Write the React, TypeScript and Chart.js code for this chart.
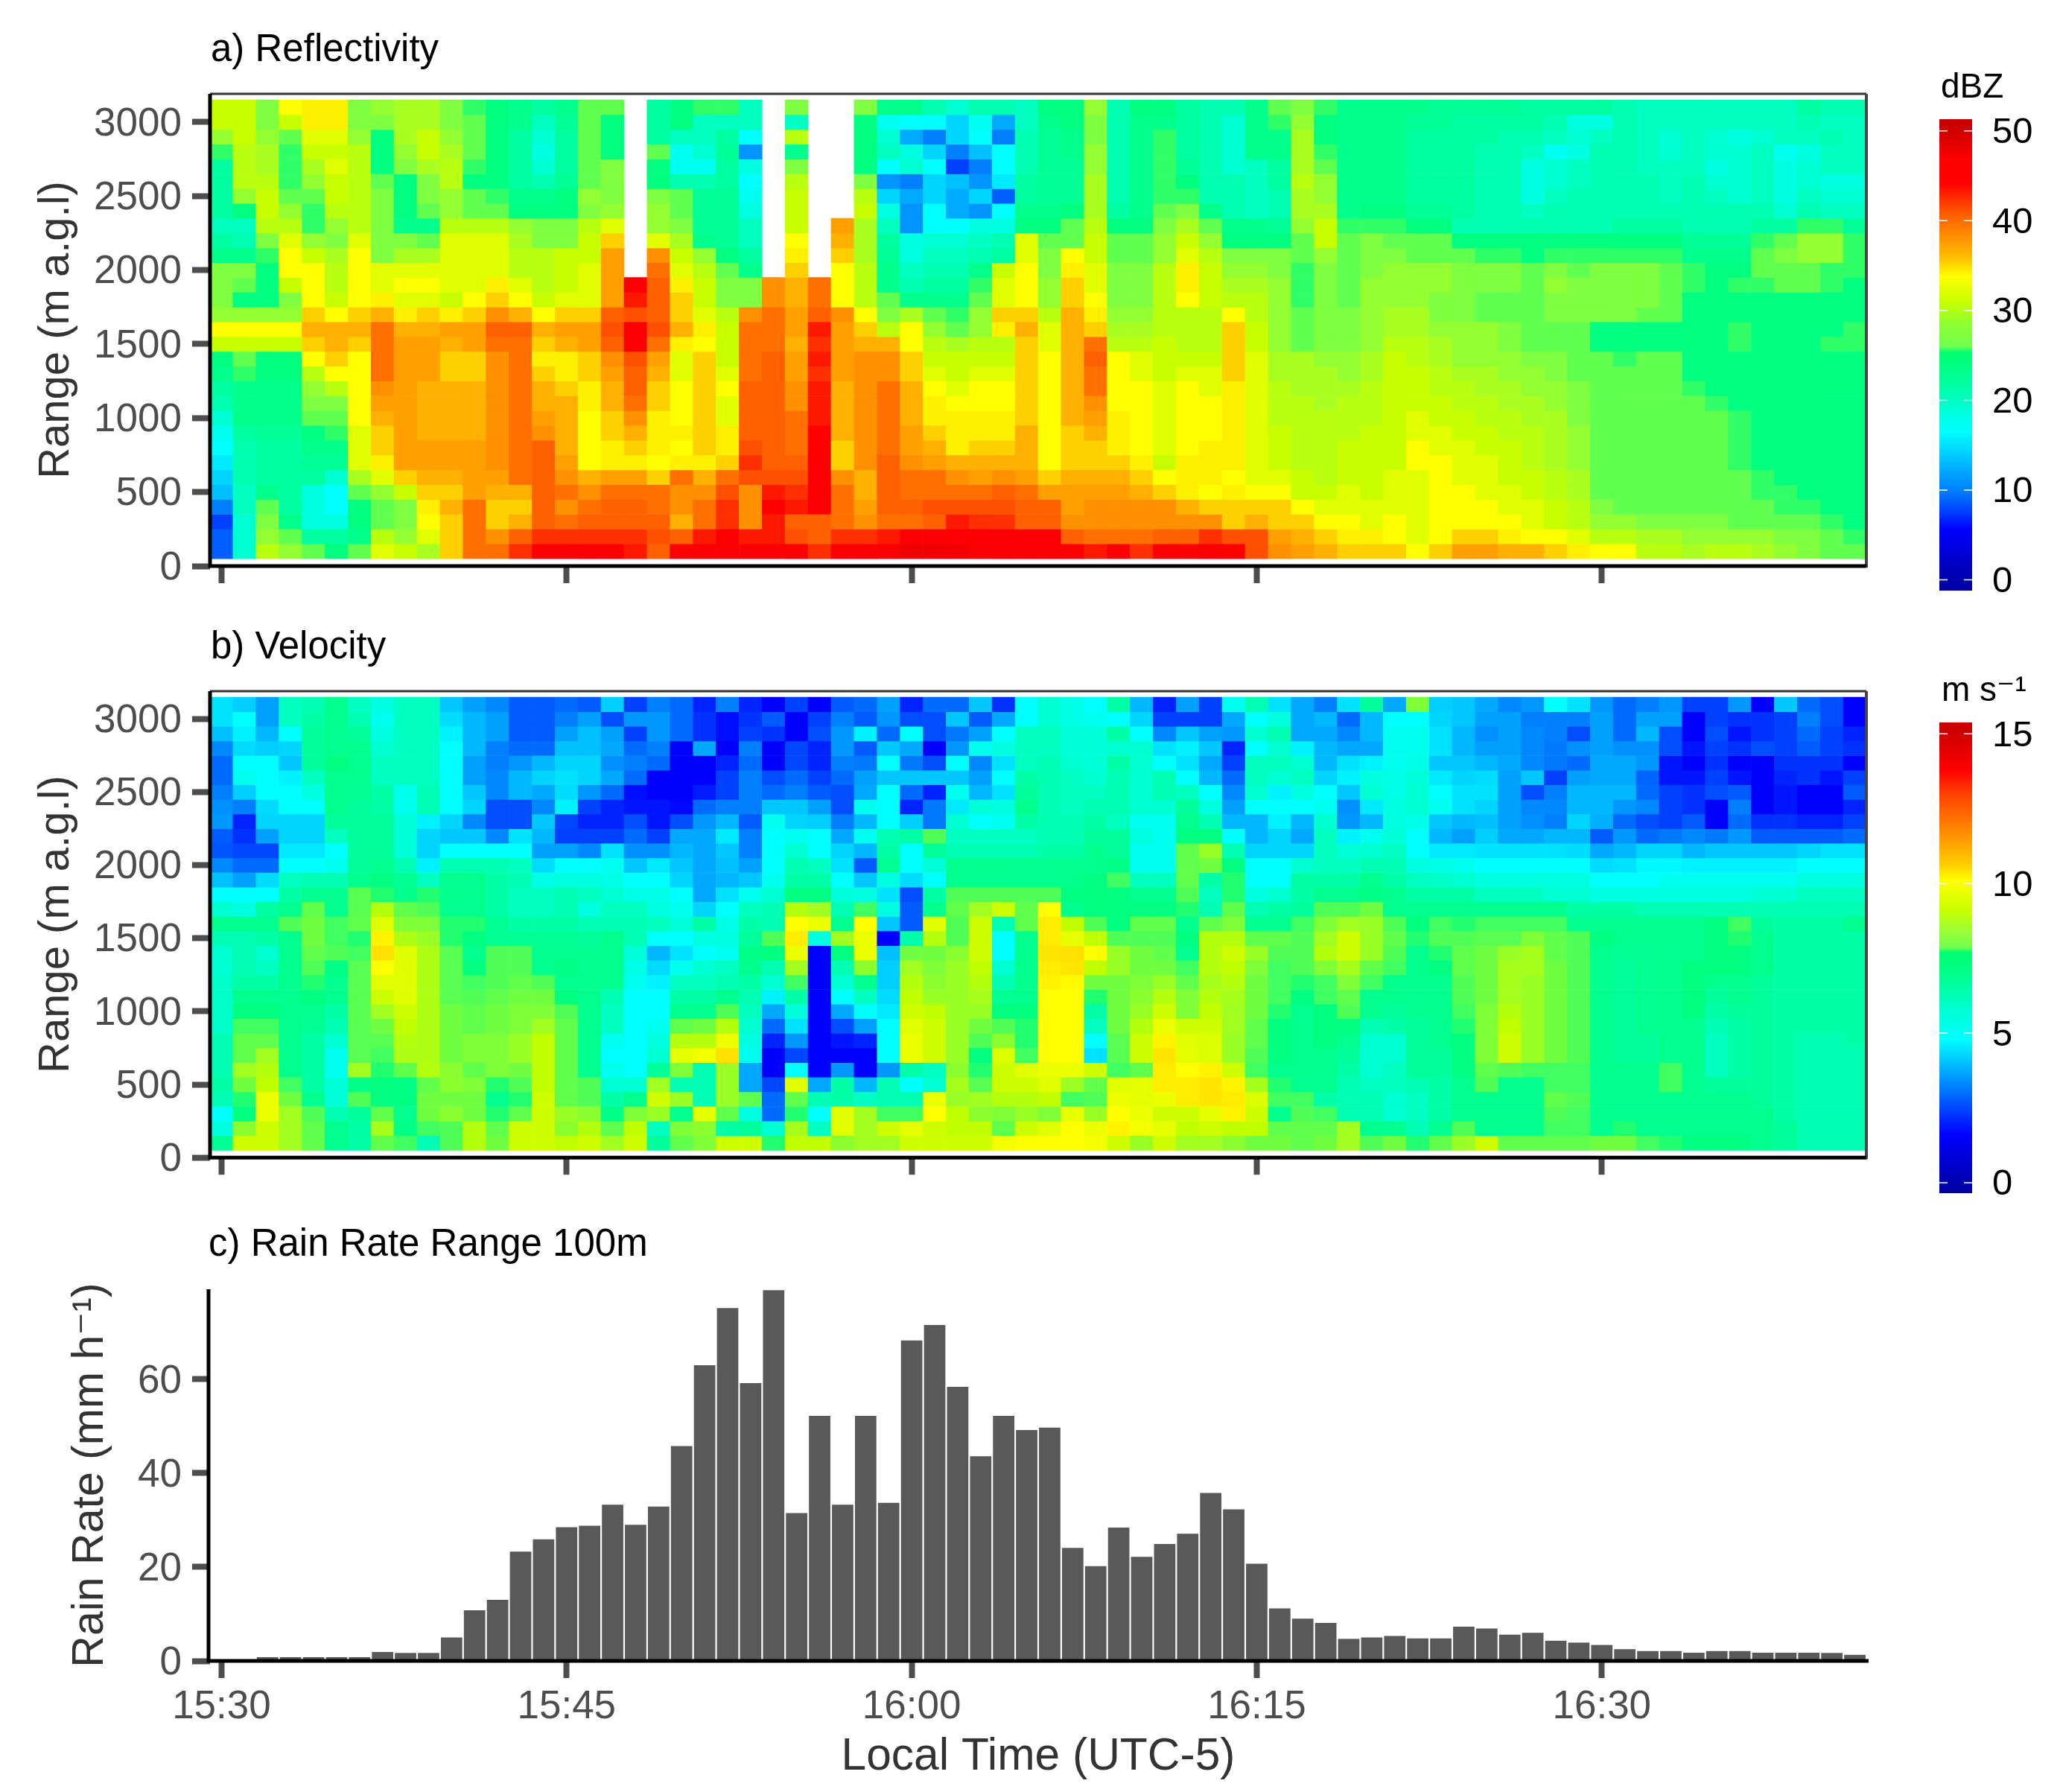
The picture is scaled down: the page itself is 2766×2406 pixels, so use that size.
import { useEffect, useRef } from "react"
import { Chart, registerables } from "chart.js"

Chart.register(...registerables)

const FONT = '"Liberation Sans", "DejaVu Sans", sans-serif'

// one minute per column
const timeLabels = Array.from({ length: 72 }, (_, i) => {
  const m = 30 + i
  return `${15 + Math.floor(m / 60)}:${String(m % 60).padStart(2, "0")}`
})
const timeTicks = ["15:30", "15:45", "16:00", "16:15", "16:30"]
const rangeTicks = [0, 500, 1000, 1500, 2000, 2500, 3000]
const rainTicks = [0, 20, 40, 60]
const dbzTicks = [0, 10, 20, 30, 40, 50]
const velTicks = [0, 5, 10, 15]

// range gates, top to bottom
const rangeGates = [3100, 3000, 2900, 2800, 2700, 2600, 2500, 2400, 2300, 2200, 2100, 2000, 1900, 1800, 1700, 1600, 1500, 1400, 1300, 1200, 1100, 1000, 900, 800, 700, 600, 500, 400, 300, 200, 100]

// dBZ, one line per minute, top gate first
const reflectivity = [
  [32,32,29,26,22,22,22,22,20,22,24,28,28,28,29,34,32,25,24,22,21,19,17,16,15,14,13,10,8,9,9],
  [32,32,32,31,31,31,29,25,20,21,24,28,27,25,29,34,32,27,26,24,24,24,22,21,21,21,20,20,19,19,19],
  [28,28,29,30,30,31,32,32,31,28,26,25,25,25,29,34,32,25,25,24,24,24,23,22,22,22,24,27,28,29,31],
  [34,32,27,26,26,26,27,29,31,33,34,34,32,28,29,34,32,25,25,24,24,24,23,22,22,22,22,22,24,27,29],
  [35,35,33,32,30,29,27,26,26,29,32,34,34,34,36,37,36,34,31,29,28,27,25,24,23,22,18,18,18,22,27],
  [35,35,33,32,33,32,32,31,29,28,30,31,31,32,34,37,37,36,34,31,28,27,26,24,23,19,16,16,18,22,25],
  [28,28,29,31,31,31,31,31,31,33,34,34,34,34,36,37,36,34,34,34,34,34,33,33,33,30,27,25,25,24,27],
  [29,28,25,25,25,27,28,28,28,28,28,33,33,35,37,40,40,40,40,39,38,37,36,36,35,33,29,27,27,31,33],
  [30,30,30,29,28,25,25,25,24,28,30,33,34,33,35,37,38,38,38,38,38,38,38,38,38,36,32,28,28,29,32],
  [30,30,32,32,30,28,28,27,24,27,30,33,34,33,36,37,38,38,38,37,37,37,37,38,38,37,36,35,34,33,30],
  [28,28,29,30,31,31,29,29,31,33,33,33,33,32,35,38,37,36,36,37,37,37,37,38,38,37,36,37,36,36,36],
  [26,27,27,27,26,25,27,27,31,33,33,33,33,34,36,38,38,36,36,37,37,37,37,38,38,38,38,40,40,40,40],
  [25,25,25,25,25,25,26,27,31,33,33,33,35,36,39,41,40,39,39,39,39,39,39,39,39,38,37,36,36,39,40],
  [24,24,22,22,22,22,24,25,29,30,31,31,33,34,37,41,40,40,40,40,40,40,40,40,40,40,37,36,37,41,43],
  [22,20,19,18,19,21,24,25,28,28,31,31,31,32,34,37,36,35,36,37,37,38,39,41,41,41,41,41,41,43,46],
  [24,23,22,22,22,23,25,25,28,28,32,32,32,33,36,38,37,35,35,36,37,37,37,37,38,39,40,39,40,43,46],
  [27,27,27,27,27,27,29,28,31,32,32,33,33,33,36,38,38,36,36,35,35,34,34,34,34,37,39,40,41,43,46],
  [27,25,25,25,28,28,28,29,33,36,38,38,38,38,41,42,41,39,38,37,37,36,36,35,35,38,40,41,41,43,46],
  [null,null,null,null,null,null,null,null,null,null,null,null,46,44,42,46,46,42,41,41,40,39,37,36,35,38,40,41,41,43,44],
  [22,22,22,27,25,25,28,29,29,33,39,40,41,41,41,42,40,38,37,36,36,35,35,35,34,36,40,40,41,42,41],
  [25,25,20,17,17,21,27,27,28,30,32,33,35,36,36,37,35,33,33,34,34,34,35,34,35,40,39,39,37,41,45],
  [26,20,20,19,17,21,23,23,23,24,29,31,32,32,33,35,34,36,36,36,36,36,36,36,35,37,39,40,40,44,46],
  [26,20,22,23,22,22,23,23,23,23,25,27,28,28,31,32,32,32,33,34,33,33,35,35,36,40,42,43,43,46,46],
  [20,20,16,11,18,16,17,18,20,20,22,24,28,28,39,40,40,40,40,41,41,41,41,42,43,42,39,39,39,44,46],
  [null,null,null,null,null,null,null,null,null,null,null,null,39,39,40,40,40,41,41,41,41,41,41,41,41,42,44,45,44,44,46],
  [28,20,31,24,28,31,32,32,32,34,35,36,37,37,38,38,37,38,38,39,39,40,40,40,41,42,43,44,41,42,46],
  [null,null,null,null,null,null,null,null,null,null,null,null,40,40,41,44,43,44,43,44,44,44,45,45,46,46,46,46,41,41,43],
  [null,null,null,null,null,null,null,null,38,37,36,34,34,34,39,38,38,38,38,37,37,37,37,36,36,39,40,40,40,43,46],
  [28,25,25,25,25,28,31,32,30,30,30,31,31,31,34,36,37,39,39,39,39,39,39,39,39,37,37,38,39,43,46],
  [24,17,19,20,16,11,14,18,20,22,23,24,24,27,28,31,37,39,39,40,40,40,40,40,41,41,41,41,40,44,46],
  [24,16,12,18,19,10,12,11,11,18,18,20,21,24,30,34,34,36,36,37,37,37,38,38,39,40,40,41,40,46,48],
  [21,16,10,14,16,14,14,16,16,19,20,21,22,24,27,29,31,32,33,34,35,35,36,37,38,40,40,42,41,46,48],
  [19,14,14,10,8,13,12,12,16,19,20,21,22,24,26,27,30,32,32,33,34,35,35,35,37,39,40,42,44,46,47],
  [21,17,16,13,10,11,14,11,18,20,21,24,26,27,29,29,31,32,33,34,34,35,35,36,37,38,40,42,43,46,46],
  [21,12,10,16,16,15,9,16,18,21,22,32,33,33,36,35,31,32,33,34,34,35,35,36,37,39,41,42,43,46,46],
  [20,20,21,21,21,22,22,24,25,33,33,34,34,34,36,37,36,36,36,36,36,36,37,37,37,38,40,41,41,46,46],
  [25,24,23,23,23,23,23,24,25,27,28,28,29,29,31,33,33,34,34,34,34,34,34,34,34,36,38,41,41,46,46],
  [25,25,24,24,23,23,23,25,27,27,34,35,36,36,37,37,37,37,37,37,37,37,36,36,36,37,38,38,39,41,46],
  [29,28,28,29,29,30,30,30,31,32,32,33,33,34,35,36,40,41,40,40,39,38,37,36,36,37,38,39,39,40,44],
  [21,21,21,21,21,21,21,22,25,27,27,28,28,28,29,30,31,34,34,34,34,35,35,35,36,37,38,39,39,40,46],
  [25,24,24,24,24,24,24,24,25,27,27,28,28,28,29,30,31,33,33,34,34,34,34,34,35,36,37,39,39,40,43],
  [25,24,26,26,26,26,26,27,28,29,29,31,31,31,31,31,32,32,32,33,33,33,33,33,32,34,36,39,39,41,46],
  [22,22,22,22,23,25,26,28,30,32,33,35,35,34,31,31,31,32,33,34,34,34,34,34,35,35,35,37,39,41,45],
  [21,21,21,21,21,21,21,24,27,29,31,32,32,32,31,31,31,32,33,33,34,34,34,35,35,35,34,36,39,43,46],
  [21,19,19,19,19,21,21,21,24,25,28,29,30,31,34,36,36,36,36,35,35,35,35,35,35,34,35,36,36,42,45],
  [24,24,24,24,20,20,20,20,24,25,28,29,30,31,31,32,32,33,33,33,33,33,33,33,33,33,34,36,37,42,42],
  [27,26,24,24,22,22,21,21,23,25,28,28,29,29,29,29,29,30,30,31,31,31,32,32,32,33,34,36,36,38,39],
  [28,29,30,30,30,31,30,30,29,27,27,26,26,26,27,27,27,30,30,30,31,31,31,31,31,32,32,34,36,37,38],
  [26,25,25,26,27,29,29,30,32,32,29,28,28,28,28,28,28,29,30,30,30,31,31,31,31,31,32,33,34,36,37],
  [24,24,24,24,24,24,24,24,26,27,27,27,27,27,28,28,28,29,29,30,31,31,31,32,32,32,33,33,34,35,36],
  [24,24,24,24,24,24,24,25,26,28,28,28,29,29,29,29,29,30,30,31,31,31,32,32,32,32,32,33,33,35,36],
  [24,24,24,24,24,24,24,25,26,27,28,29,29,29,30,30,31,32,32,32,32,32,32,32,32,33,33,33,34,34,36],
  [24,23,22,22,22,22,22,23,25,27,27,29,29,29,30,30,31,31,32,32,32,33,33,34,34,33,33,33,33,33,34],
  [23,23,22,22,22,22,22,23,25,27,27,29,29,28,28,29,30,30,31,31,32,32,33,33,34,34,34,34,34,34,36],
  [23,22,22,22,22,22,22,22,21,25,27,28,28,28,28,29,29,29,30,31,31,32,32,33,33,33,34,34,34,36,38],
  [23,22,22,21,21,21,21,21,21,25,26,28,28,27,27,29,29,29,30,30,31,31,32,32,33,33,33,34,34,36,38],
  [23,22,21,21,21,21,21,21,21,25,26,28,28,27,27,28,28,29,29,30,30,31,31,32,32,32,33,33,34,35,37],
  [22,22,21,20,18,18,18,20,21,25,25,27,27,27,27,27,27,28,29,29,30,30,31,31,31,32,32,33,33,34,37],
  [22,21,20,17,19,19,20,21,21,25,26,28,29,28,28,27,27,28,28,29,29,30,30,30,30,31,31,32,32,34,36],
  [22,18,19,18,20,20,21,21,21,25,26,27,28,28,28,27,27,27,27,28,28,28,29,29,29,30,30,31,31,33,35],
  [22,18,20,21,21,21,21,21,21,25,26,28,28,28,28,25,25,27,27,27,27,27,27,27,27,27,27,28,29,31,34],
  [21,21,21,21,21,21,21,21,22,25,26,28,28,28,28,25,25,26,27,27,27,27,27,27,27,27,27,27,29,31,34],
  [20,20,20,20,20,21,21,21,22,25,26,28,28,28,27,25,25,27,27,27,27,27,27,27,27,27,27,27,28,30,31],
  [20,20,19,19,20,20,20,21,22,25,26,27,27,27,27,25,25,27,27,27,27,27,27,27,27,27,27,27,28,30,31],
  [20,20,20,20,20,21,21,21,21,23,24,26,26,25,25,25,25,25,25,26,27,27,27,27,27,27,27,27,28,29,30],
  [20,20,19,19,18,19,20,21,21,23,24,25,25,25,25,25,25,25,25,25,26,27,27,27,27,27,27,27,28,29,31],
  [20,20,18,19,19,19,19,21,21,23,24,25,26,25,25,26,26,25,25,25,25,26,26,26,26,27,27,27,27,29,31],
  [20,20,19,20,20,20,20,21,22,26,27,27,26,25,25,25,25,25,25,25,25,25,25,25,25,26,26,27,27,29,30],
  [20,20,20,17,18,18,18,19,22,27,28,27,27,25,25,25,25,25,25,25,25,25,25,25,25,25,26,26,27,28,29],
  [22,21,20,18,19,19,20,21,26,29,29,27,27,25,25,25,25,25,25,25,25,25,25,25,25,25,25,26,27,28,28],
  [21,20,21,20,20,18,19,20,26,29,29,26,26,25,25,25,26,25,25,25,25,25,25,25,25,25,25,25,26,27,27],
  [21,20,20,20,20,18,19,20,23,26,26,26,25,25,25,26,26,25,25,25,25,25,25,25,25,25,25,25,25,26,27],
]

// tenths of m/s, one line per minute, top gate first
const velocity = [
  [46,46,41,34,30,30,33,35,36,28,27,34,41,50,56,66,60,56,56,57,57,57,57,60,60,60,62,60,50,54,65],
  [43,50,48,45,50,52,43,33,20,22,25,30,37,50,54,66,60,60,60,62,66,68,72,76,76,85,78,70,68,82,92],
  [37,37,40,43,50,50,50,45,44,37,25,30,45,50,63,66,62,56,58,62,66,68,72,76,85,88,90,97,97,92,92],
  [58,58,50,44,42,48,50,50,44,44,47,50,58,62,66,74,66,66,66,66,66,66,66,66,66,66,72,78,85,85,85],
  [60,62,64,64,64,58,54,50,44,44,47,50,60,66,76,78,78,76,74,70,68,66,65,62,62,62,62,66,74,76,76],
  [66,66,66,66,68,66,66,66,64,58,50,52,60,66,66,72,72,74,67,66,66,62,60,56,52,52,55,55,60,66,66],
  [58,60,64,66,66,66,65,64,64,64,64,64,66,75,75,76,70,72,75,75,75,75,75,75,75,85,67,74,64,62,62],
  [54,52,54,56,58,58,62,62,64,64,64,66,68,70,88,95,102,105,100,95,92,85,78,75,72,70,68,68,76,86,76],
  [58,58,58,58,58,58,52,52,55,55,55,60,65,66,76,80,87,95,95,95,95,92,90,88,87,76,67,68,66,67,72],
  [58,58,58,58,58,58,60,60,48,44,44,48,58,70,74,80,84,87,87,87,87,87,87,87,87,88,76,78,78,72,60],
  [42,45,48,50,50,50,50,50,44,42,50,60,66,66,66,70,70,75,75,75,75,78,78,78,78,82,82,78,82,74,74],
  [37,40,40,40,37,37,42,44,34,42,50,60,66,66,66,70,68,66,68,72,74,76,76,80,80,76,80,78,78,88,88],
  [34,37,37,33,33,34,34,26,26,34,50,60,62,62,62,65,65,74,74,74,76,78,78,80,80,80,70,66,70,76,78],
  [28,28,28,30,36,40,40,26,26,46,50,58,60,58,58,62,65,74,74,76,78,80,80,84,84,78,74,70,76,92,92],
  [28,28,28,30,40,44,38,34,42,40,37,45,53,58,58,62,65,66,66,74,78,80,85,90,90,90,90,92,92,92,92],
  [30,33,37,41,44,46,45,48,25,24,37,50,54,60,60,62,65,66,67,66,68,74,76,76,76,76,76,76,84,82,90],
  [28,37,41,41,44,44,36,24,20,24,34,50,54,58,54,60,64,66,66,66,66,66,66,66,66,66,74,74,82,88,92],
  [43,26,37,38,35,38,30,20,20,24,46,52,53,56,58,60,66,66,66,66,60,58,58,52,50,52,56,62,67,76,85],
  [24,36,24,30,33,30,17,18,26,30,35,42,50,53,58,60,60,55,53,52,50,50,50,50,50,50,56,66,80,90,92],
  [33,36,36,33,30,15,15,18,18,24,35,47,50,53,54,58,50,40,45,48,50,50,52,54,56,64,85,92,84,58,64],
  [30,30,30,15,15,15,15,16,26,38,40,42,44,50,52,55,50,46,52,58,62,66,76,88,96,80,60,84,66,80,76],
  [20,22,22,38,15,15,19,30,36,38,38,38,38,38,44,62,54,50,56,58,62,66,78,88,98,60,60,60,96,82,80],
  [33,17,17,15,20,24,24,33,40,47,42,41,40,46,50,53,54,52,58,60,66,74,88,97,105,84,84,84,76,62,92],
  [20,22,24,33,30,33,33,33,28,33,33,37,42,52,58,62,64,67,66,62,60,58,56,54,52,38,38,76,54,64,92],
  [15,28,22,15,15,26,30,42,52,50,50,50,52,56,60,60,74,68,60,56,48,38,30,20,15,15,25,30,30,56,70],
  [24,15,15,25,25,30,33,42,44,52,56,60,62,68,88,100,103,97,85,72,62,55,46,36,25,50,95,76,70,86,90],
  [15,24,26,20,20,24,28,37,43,50,50,58,62,68,85,97,54,15,15,15,15,15,15,15,15,15,38,60,50,58,90],
  [28,33,36,36,33,30,26,26,33,38,44,46,50,55,60,66,85,68,60,56,50,38,26,18,15,36,62,62,95,95,82],
  [30,28,48,28,32,37,38,52,40,52,40,28,42,54,72,100,97,97,82,66,58,50,37,20,15,15,40,58,85,85,85],
  [37,36,30,42,50,42,50,50,50,60,62,65,54,46,54,42,15,41,43,43,45,47,50,50,50,36,60,60,72,92,85],
  [20,26,50,38,32,42,30,20,43,62,50,50,45,26,28,28,62,78,85,88,90,92,95,97,97,62,50,60,72,96,92],
  [30,26,26,15,26,42,20,32,32,74,64,55,50,62,66,95,88,78,80,82,84,90,92,92,92,58,56,97,100,92,92],
  [30,42,32,36,50,42,52,47,56,58,60,66,66,74,76,74,74,82,84,84,84,84,84,84,84,82,86,84,90,90,92],
  [42,28,37,52,34,37,40,55,50,58,60,66,66,74,85,92,92,92,90,88,86,84,78,74,68,70,75,85,82,90,92],
  [22,38,50,54,46,50,46,54,52,58,60,66,66,74,92,60,50,50,56,60,65,68,74,82,94,92,92,88,80,76,98],
  [50,50,58,58,58,62,64,66,62,58,60,66,66,74,76,76,66,66,66,66,66,68,70,70,72,95,92,88,84,92,100],
  [56,56,58,58,60,60,60,60,60,60,62,66,66,74,100,103,103,104,103,102,100,100,100,100,100,97,95,90,80,95,100],
  [53,53,55,55,56,58,58,58,60,60,62,66,66,68,66,90,96,105,104,101,100,100,100,100,100,97,84,72,96,100,100],
  [50,52,55,55,55,56,58,60,62,64,66,66,68,68,68,74,90,100,90,78,70,62,58,50,46,92,76,74,84,97,98],
  [62,50,62,56,62,60,60,60,58,64,64,67,72,68,68,68,74,84,84,78,78,78,78,75,75,72,95,97,100,102,92],
  [40,44,50,56,56,56,56,56,52,54,52,52,58,66,68,76,74,78,78,80,82,84,88,92,92,76,96,96,97,98,84],
  [20,24,34,46,50,60,60,56,52,52,52,52,58,66,68,76,74,76,78,84,88,92,97,102,104,103,103,97,92,96,92],
  [37,24,42,48,46,50,58,64,66,68,76,76,76,74,70,66,68,66,72,76,80,80,92,95,96,100,103,103,92,90,85],
  [24,24,37,42,38,40,50,54,60,68,84,78,62,58,60,76,88,88,88,86,88,90,92,94,94,102,104,104,96,92,85],
  [52,38,36,20,24,30,34,37,40,50,60,68,70,70,76,80,88,92,90,88,86,85,85,84,84,92,102,103,102,90,82],
  [60,50,56,50,58,58,56,50,40,40,44,50,50,54,60,66,76,84,80,78,78,78,76,76,74,72,86,94,92,90,78],
  [46,54,60,56,58,56,48,50,48,44,44,50,50,56,62,66,76,74,72,72,72,70,68,68,68,66,70,72,66,76,78],
  [38,38,38,48,56,58,54,50,40,38,44,56,62,62,64,72,74,74,74,70,68,66,66,66,66,66,66,72,74,76,76],
  [33,40,38,40,40,44,50,52,56,58,58,58,62,66,74,80,85,88,80,72,72,68,68,68,66,66,66,62,72,76,78],
  [46,30,34,38,46,48,42,35,36,48,55,58,62,66,74,85,92,92,86,80,76,74,68,66,64,62,60,60,60,85,85],
  [64,40,40,38,48,54,56,47,40,52,56,60,66,67,78,84,84,84,76,72,66,66,60,56,56,56,58,60,60,66,74],
  [38,50,52,52,52,53,53,54,54,55,58,60,62,66,66,74,76,74,72,66,66,64,62,56,56,58,58,56,56,66,78],
  [80,50,52,52,53,55,56,56,53,50,50,54,58,62,66,68,70,66,66,66,66,66,64,64,64,64,60,58,58,60,70],
  [43,44,46,46,42,47,50,52,42,40,47,53,57,62,66,72,74,70,68,66,66,66,66,66,64,64,62,62,62,66,76],
  [42,42,40,40,42,44,46,46,40,37,47,52,56,62,66,70,74,76,76,74,74,72,70,68,68,68,66,66,66,74,84],
  [38,37,35,37,40,45,46,44,41,43,46,50,54,58,66,72,75,78,78,78,78,80,80,80,80,76,74,66,66,66,92],
  [34,37,37,37,38,37,37,37,37,38,46,50,54,58,66,72,75,84,86,86,86,88,90,92,92,74,66,66,66,66,76],
  [36,33,34,34,34,42,26,34,35,38,46,50,54,58,66,72,80,86,86,84,84,84,84,84,84,72,66,66,66,66,76],
  [50,33,33,32,32,24,33,34,33,40,46,50,54,56,66,72,76,76,78,78,78,78,78,78,78,72,72,76,74,72,76],
  [46,33,26,35,30,37,40,40,44,40,45,50,54,56,62,66,74,74,74,74,74,74,74,74,74,72,72,74,72,72,76],
  [36,37,37,37,38,38,40,40,39,28,38,45,50,54,62,66,68,66,66,66,66,66,66,66,66,66,66,66,66,66,78],
  [30,30,30,35,38,38,40,36,30,36,40,46,50,54,62,66,66,65,64,64,64,64,64,64,64,66,66,66,66,70,78],
  [33,37,40,35,36,29,30,34,26,30,44,49,50,54,60,66,66,65,66,66,66,66,66,64,64,66,66,66,66,66,72],
  [36,37,26,26,18,18,24,24,24,32,44,49,52,54,60,66,66,66,66,66,66,66,66,66,66,72,72,66,66,66,70],
  [24,15,15,18,15,18,22,22,28,34,40,48,52,54,60,66,66,66,68,68,68,68,66,66,66,66,66,66,66,66,68],
  [24,24,26,24,22,24,26,15,15,32,42,48,52,54,60,68,68,68,68,66,64,62,60,58,58,58,64,66,66,66,68],
  [36,22,18,22,10,18,28,33,30,36,42,48,52,54,60,72,70,68,68,66,66,64,62,62,62,62,64,66,66,66,68],
  [15,22,22,26,15,15,15,15,22,28,42,48,52,56,60,64,66,66,66,64,64,64,64,64,64,64,64,64,66,66,66],
  [42,24,24,24,22,20,18,18,22,28,42,48,52,56,60,62,62,62,62,62,62,62,62,62,62,62,62,62,62,64,64],
  [30,33,30,28,22,22,15,15,20,28,44,50,54,58,60,62,62,62,62,62,62,62,62,60,60,60,60,60,60,60,60],
  [26,26,24,24,22,18,15,15,20,28,46,50,54,58,60,62,62,62,62,62,62,62,62,60,60,60,60,60,60,60,60],
  [15,12,20,22,12,24,28,20,24,30,46,50,54,58,60,66,62,62,62,62,62,62,62,62,60,60,60,60,60,60,60],
]

// mm/h at 100 m, one per minute
const rainRate = [0,0,0.8,0.8,0.8,0.8,0.8,1.9,1.7,1.7,5,10.8,13,23.3,25.9,28.5,28.8,33.3,29,32.9,45.8,63,75.2,59.2,79,31.5,52.2,33.3,52.2,33.7,68.3,71.6,58.4,43.6,52.2,49.2,49.7,24.1,20.2,28.4,22.2,24.9,27.1,35.8,32.3,20.7,11.2,9,8.1,4.7,5,5.3,4.8,4.8,7.3,6.9,5.6,6,4.3,3.9,3.4,2.5,2.1,2.1,1.75,2.1,2.1,1.75,1.75,1.75,1.7,1.3]

type Stop = [number, number, number, number]

// cell colours, value then r g b
const dbzColors: Stop[] = [
  [5, 0, 0, 255], [8, 0, 64, 255], [10, 0, 128, 255], [13, 0, 192, 255], [16, 0, 255, 255], [18, 0, 255, 224], [20, 0, 255, 192], [22, 0, 255, 160], [25, 0, 255, 128],
  [27, 96, 255, 80], [28, 128, 255, 64], [30, 168, 255, 32], [32, 200, 255, 0], [33, 224, 255, 0], [34, 255, 255, 0], [35, 255, 240, 0], [36, 255, 208, 0], [37, 255, 176, 0], [39, 255, 144, 0],
  [40, 255, 112, 0], [42, 255, 80, 0], [43, 255, 48, 0], [45, 255, 0, 0], [48, 240, 0, 0],
]
const velColors: Stop[] = [
  [15, 0, 0, 255], [24, 0, 64, 255], [33, 0, 128, 255], [41, 0, 192, 255], [50, 0, 255, 255], [58, 0, 255, 192], [68, 0, 255, 128], [72, 64, 255, 96], [78, 112, 255, 64],
  [85, 160, 255, 32], [90, 192, 255, 0], [95, 224, 255, 0], [100, 255, 255, 0], [105, 255, 224, 0],
]

// colour bar stops as read from the two legends
const dbzLegend: Stop[] = [
  [-1.2, 0, 0, 160], [1.6, 0, 0, 192], [5.6, 0, 0, 255], [7.6, 0, 64, 255], [10, 0, 128, 255], [13.3, 0, 192, 255], [16.5, 0, 255, 255], [18.5, 0, 255, 224], [21.7, 0, 255, 160],
  [25.3, 0, 255, 112], [26, 112, 255, 80], [28.6, 144, 255, 48], [31, 200, 255, 0], [33.8, 255, 255, 0], [35.8, 255, 192, 0], [38.2, 255, 144, 0], [40.6, 255, 96, 0], [44.2, 255, 0, 0],
  [46.7, 255, 0, 0], [50, 208, 0, 0], [51.3, 200, 0, 0],
]
const velLegend: Stop[] = [
  [-0.35, 0, 0, 160], [0, 0, 0, 176], [1.6, 0, 0, 255], [2.4, 0, 64, 255], [3.2, 0, 128, 255], [4, 0, 192, 255], [4.8, 0, 255, 255], [5.8, 0, 255, 208], [6.6, 0, 255, 160],
  [7.2, 0, 255, 128], [7.7, 0, 255, 112], [7.85, 112, 255, 80], [8.5, 160, 255, 48], [9.1, 200, 255, 0], [10.1, 255, 255, 0], [10.6, 255, 208, 0], [11.9, 255, 128, 0], [13, 255, 64, 0],
  [13.8, 255, 0, 0], [15, 208, 0, 0], [15.38, 200, 0, 0],
]

function colorFor(stops: Stop[], v: number | null | undefined) {
  if (v === null || v === undefined) return "rgba(0,0,0,0)"
  if (v <= stops[0][0]) return `rgb(${stops[0][1]},${stops[0][2]},${stops[0][3]})`
  for (let i = 1; i < stops.length; i++) {
    const b = stops[i]
    if (v <= b[0]) {
      const a = stops[i - 1]
      const t = (v - a[0]) / (b[0] - a[0])
      return `rgb(${a[1] + (b[1] - a[1]) * t},${a[2] + (b[2] - a[2]) * t},${a[3] + (b[3] - a[3]) * t})`
    }
  }
  const l = stops[stops.length - 1]
  return `rgb(${l[1]},${l[2]},${l[3]})`
}

const INK = "#4d4d4d"

function drawAxisLines(chart: any, extraLeft: number, extraRight: number) {
  const { ctx, chartArea: a } = chart
  ctx.save()
  ctx.lineWidth = 5
  ctx.strokeStyle = "#000"
  ctx.beginPath()
  ctx.moveTo(a.left - extraLeft, a.top)
  ctx.lineTo(a.left - extraLeft, a.bottom + 2)
  ctx.moveTo(a.left - extraLeft - 2, a.bottom)
  ctx.lineTo(a.right + extraRight, a.bottom)
  ctx.stroke()
  ctx.restore()
}

const framePlugin = {
  id: "frame",
  afterDatasetsDraw(chart: any) {
    const { ctx, chartArea: a } = chart
    ctx.save()
    ctx.lineWidth = 3
    ctx.strokeStyle = "#333"
    ctx.beginPath()
    ctx.moveTo(a.left, a.top)
    ctx.lineTo(a.right, a.top)
    ctx.stroke()
    ctx.lineWidth = 4
    ctx.strokeStyle = "#444"
    ctx.beginPath()
    ctx.moveTo(a.right, a.top)
    ctx.lineTo(a.right, a.bottom + 2)
    ctx.stroke()
    ctx.restore()
    drawAxisLines(chart, 0, 0)
  },
}

const axisPlugin = {
  id: "axisLines",
  afterDatasetsDraw(chart: any) {
    drawAxisLines(chart, 2, 3)
  },
}

const legendTicksPlugin = {
  id: "legendTicks",
  afterDatasetsDraw(chart: any) {
    const { ctx, chartArea: a, scales } = chart
    ctx.save()
    ctx.strokeStyle = "#fff"
    ctx.lineWidth = 1.5
    scales.y.ticks.forEach((t: any) => {
      const y = scales.y.getPixelForValue(t.value)
      ctx.beginPath()
      ctx.moveTo(a.left, y)
      ctx.lineTo(a.left + 11, y)
      ctx.moveTo(a.right - 11, y)
      ctx.lineTo(a.right, y)
      ctx.stroke()
    })
    ctx.restore()
  },
}

function xAxis(showLabels: boolean, height: number, title?: string) {
  return {
    type: "category" as const,
    labels: timeLabels,
    stacked: true,
    offset: true,
    afterBuildTicks(scale: any) {
      scale.ticks = scale.ticks.filter((t: any) => timeTicks.includes(timeLabels[t.value]))
    },
    afterFit(scale: any) {
      scale.height = height
    },
    grid: { offset: false, drawOnChartArea: false, tickLength: 23, tickWidth: 8, tickColor: INK },
    border: { display: false },
    ticks: { display: showLabels, autoSkip: false, maxRotation: 0, color: INK, font: { family: FONT, size: 53 }, padding: 8 },
    title: title
      ? { display: true, text: title, color: "#333", font: { family: FONT, size: 60.5 }, padding: { top: 0, bottom: 10 } }
      : { display: false },
  }
}

function yAxis(max: number, tickValues: number[], title: string, size: number, titlePad: number) {
  return {
    type: "linear" as const,
    min: 0,
    max,
    stacked: false,
    afterBuildTicks(scale: any) {
      scale.ticks = tickValues.map((value) => ({ value }))
    },
    afterFit(scale: any) {
      scale.width = 282
    },
    grid: { drawOnChartArea: false, tickLength: 24, tickWidth: 8, tickColor: INK },
    border: { display: false },
    ticks: { color: INK, font: { family: FONT, size: 53 }, padding: 14, labelOffset: 3, callback: (v: any) => String(v) },
    title: { display: true, text: title, color: "#333", font: { family: FONT, size }, padding: { top: titlePad, bottom: 0 } },
  }
}

function heatmapConfig(cols: (number | null)[][], stops: Stop[], paddingTop: number, bottomHeight: number): any {
  return {
    type: "bar",
    data: {
      labels: timeLabels,
      datasets: rangeGates.map((gate, row) => ({
        label: `${gate} m`,
        data: cols.map((c) => (c[row] === null ? null : [gate - 50, gate + 50])),
        backgroundColor: cols.map((c) => colorFor(stops, c[row])),
        borderWidth: 0,
        barPercentage: 1,
        categoryPercentage: 1,
      })),
    },
    options: {
      animation: false,
      responsive: false,
      devicePixelRatio: 1,
      layout: { autoPadding: false, padding: { top: paddingTop, right: 260, left: 0, bottom: 0 } },
      plugins: { legend: { display: false }, tooltip: { enabled: false } },
      scales: {
        x: xAxis(false, bottomHeight),
        y: yAxis(3191, rangeTicks, "Range (m a.g.l)", 58, 41),
      },
    },
    plugins: [framePlugin],
  }
}

function rainConfig(): any {
  return {
    type: "bar",
    data: {
      labels: timeLabels,
      datasets: [{ data: rainRate, backgroundColor: "#595959", borderWidth: 0, barPercentage: 0.93, categoryPercentage: 1 }],
    },
    options: {
      animation: false,
      responsive: false,
      devicePixelRatio: 1,
      layout: { autoPadding: false, padding: { top: 91, right: 260, left: 0, bottom: 0 } },
      plugins: { legend: { display: false }, tooltip: { enabled: false } },
      scales: {
        x: xAxis(true, 176, "Local Time (UTC-5)"),
        y: yAxis(79.2, rainTicks, "Rain Rate (mm h⁻¹)", 59, 86),
      },
    },
    plugins: [axisPlugin],
  }
}

function legendConfig(stops: Stop[], tickValues: number[], padTop: number, padBottom: number): any {
  const lo = stops[0][0]
  const hi = stops[stops.length - 1][0]
  return {
    type: "bar",
    data: {
      labels: [""],
      datasets: [
        {
          data: [[lo, hi]],
          borderWidth: 0,
          barPercentage: 1,
          categoryPercentage: 1,
          backgroundColor(context: any) {
            const { chart } = context
            if (!chart.chartArea) return "#000"
            const grad = chart.ctx.createLinearGradient(0, chart.scales.y.getPixelForValue(lo), 0, chart.scales.y.getPixelForValue(hi))
            stops.forEach((s) => grad.addColorStop((s[0] - lo) / (hi - lo), colorFor(stops, s[0])))
            return grad
          },
        },
      ],
    },
    options: {
      animation: false,
      responsive: false,
      devicePixelRatio: 1,
      layout: { autoPadding: false, padding: { top: padTop, bottom: padBottom, left: 0, right: 0 } },
      plugins: { legend: { display: false }, tooltip: { enabled: false } },
      scales: {
        x: { display: false },
        y: {
          position: "right",
          min: lo,
          max: hi,
          afterBuildTicks(scale: any) {
            scale.ticks = tickValues.map((value) => ({ value }))
          },
          afterFit(scale: any) {
            scale.width = 118
          },
          grid: { display: false },
          border: { display: false },
          ticks: { color: "#000", crossAlign: "near", padding: 19, labelOffset: 3, font: { family: FONT, size: 49 }, callback: (v: any) => String(v) },
        },
      },
    },
    plugins: [legendTicksPlugin],
  }
}

function ChartCanvas({ left, top, width, height, config }: { left: number; top: number; width: number; height: number; config: () => any }) {
  const canvasRef = useRef<HTMLCanvasElement>(null)

  useEffect(() => {
    if (!canvasRef.current) return
    const chart = new Chart(canvasRef.current, config())
    return () => chart.destroy()
  }, [])

  return <canvas ref={canvasRef} width={width} height={height} style={{ position: "absolute", left, top, width, height }} />
}

function Label({ x, y, size, children }: { x: number; y: number; size: number; children: string }) {
  return (
    <span style={{ position: "absolute", left: x, top: y - 40, lineHeight: "80px", fontFamily: FONT, fontSize: size, color: "#000", whiteSpace: "pre" }}>
      {children}
    </span>
  )
}

export default function App() {
  return (
    <div style={{ position: "absolute", left: 0, top: 0, width: 2766, height: 2406, background: "#fff", overflow: "hidden" }}>
      <ChartCanvas left={0} top={0} width={2766} height={880} config={() => heatmapConfig(reflectivity, dbzColors, 126, 120)} />
      <ChartCanvas left={0} top={880} width={2766} height={720} config={() => heatmapConfig(velocity, velColors, 48, 37)} />
      <ChartCanvas left={0} top={1640} width={2766} height={766} config={rainConfig} />
      <ChartCanvas left={2604} top={100} width={162} height={760} config={() => legendConfig(dbzLegend, dbzTicks, 60, 67)} />
      <ChartCanvas left={2604} top={910} width={162} height={760} config={() => legendConfig(velLegend, velTicks, 60, 68)} />
      <Label x={283} y={65} size={51}>a) Reflectivity</Label>
      <Label x={283} y={867} size={51}>b) Velocity</Label>
      <Label x={280} y={1669} size={51}>c) Rain Rate Range 100m</Label>
      <Label x={2606} y={115} size={46}>dBZ</Label>
      <Label x={2607} y={925} size={46}>m s⁻¹</Label>
    </div>
  )
}
